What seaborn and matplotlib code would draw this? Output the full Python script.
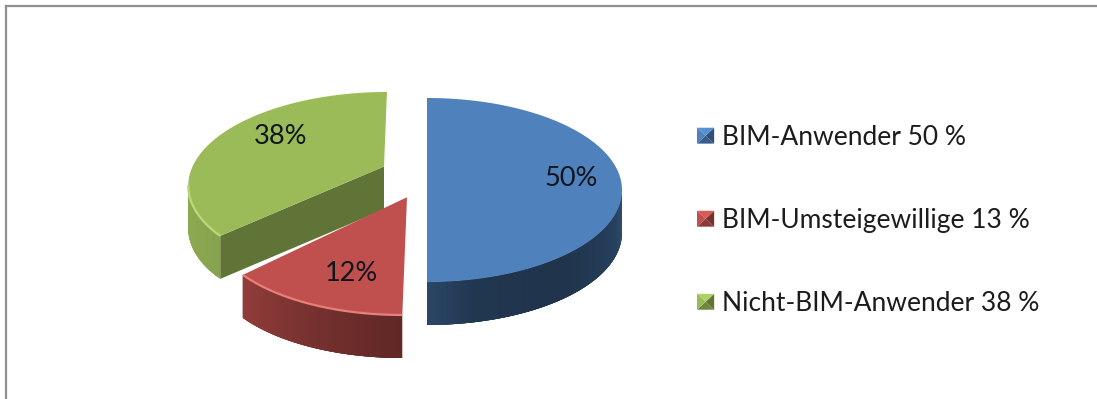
import numpy as np
import matplotlib
matplotlib.use("Agg")
import matplotlib.pyplot as plt
from matplotlib.legend_handler import HandlerBase
from matplotlib.patches import Patch, Polygon
import seaborn as sns

# ---- data ----
categories = ["BIM-Anwender 50 %", "BIM-Umsteigewillige 13 %", "Nicht-BIM-Anwender 38 %"]
slice_values = [50, 12, 38]
slice_labels = ["50%", "12%", "38%"]
base_colors = ["#4f81bd", "#c0504d", "#9bbb59"]

# ---- styling / layout ----
sns.set_theme(style="white")
plt.rcParams["font.family"] = ["Lato", "DejaVu Sans"]
palette = sns.color_palette(base_colors)

W, H = 1097, 399
fig = plt.figure(figsize=(W / 100, H / 100), dpi=100, facecolor="white")
ax = fig.add_axes([6 / W, 0, 1 - 6 / W, 1 - 6 / H])
ax.set_xlim(6, W)
ax.set_ylim(H, 6)
ax.set_xticks([])
ax.set_yticks([])
for s in ["right", "bottom"]:
    ax.spines[s].set_visible(False)
for s in ["left", "top"]:
    ax.spines[s].set_color("#8f8f8f")
    ax.spines[s].set_linewidth(1.6)

RX, RY, DEPTH, PERSP = 195, 92, 43, 0.75
centers_x = [427, 407, 384]
centers_y = [190, 223, 184]
apex_e = [0.28, 0.28, 0.19]
shears = [0.0, -0.04, -0.04]
# shade factor along the front wall, from start to end of the visible arc (degrees)
wall_shades = [((90, 105, 135, 165, 180), (0.62, 0.50, 0.40, 0.42, 0.55)),
               ((180, 200, 240), (0.50, 0.58, 0.78)),
               ((230, 270), (0.86, 0.92))]
rim_colors = [None, "#e87f7b", "#bcd978"]
label_pos = [(571, 178), (351, 273.5), (281, 137)]


def persp_angle(theta):
    return 2 * np.arctan2(PERSP * np.sin(theta / 2), np.cos(theta / 2))


edges = np.radians(np.concatenate([[0], np.cumsum(slice_values)]) / np.sum(slice_values) * 360)

for i, color in enumerate(palette):
    cx, cy, sh = centers_x[i], centers_y[i], shears[i]
    ay = cy - apex_e[i] * RY
    z = 2 + {0: 2, 1: 1, 2: 0}[i]

    def pt(phi, dy=0):
        y = cy - RY * np.cos(phi)
        return cx + RX * np.sin(phi) + sh * (y - ay), y + dy

    p0, p1 = persp_angle(edges[i]), persp_angle(edges[i + 1])
    phis = np.linspace(p0, p1, 160)
    base = np.array(color)

    # cut face towards the viewer (only where the slice's closing radius faces front)
    if i == 2:
        ex, ey = pt(p0)
        ax.fill([cx, ex, ex, cx], [ay, ey, ey + DEPTH, ay + DEPTH],
                color=base * 0.62, lw=0, zorder=z)

    # curved front wall: overlapping strips, painted one over the next
    lo, hi = np.radians(90), np.radians(270)
    w = phis[(phis >= lo) & (phis <= hi)]
    for j in range(len(w) - 1):
        a, b = w[j], w[min(j + 4, len(w) - 1)]
        k = np.interp(np.degrees(w[j]), *wall_shades[i])
        xa, ya = pt(a)
        xb, yb = pt(b)
        ax.fill([xa, xb, xb, xa], [ya, yb, yb + DEPTH, ya + DEPTH],
                color=np.clip(base * k, 0, 1), lw=0, zorder=z)

    # top face
    xs, ys = zip(*[pt(p) for p in phis])
    ax.fill([cx, *xs], [ay, *ys], color=base, lw=0, zorder=z + 0.1)

    # bevel highlight on the front rim
    if rim_colors[i]:
        r = phis[(phis >= lo) & (phis <= hi)]
        rx, ry = zip(*[pt(p) for p in r])
        ax.plot(rx, ry, color=rim_colors[i], lw=1.6, solid_capstyle="butt", zorder=z + 0.2)

    ax.text(*label_pos[i], slice_labels[i], ha="center", va="center",
            fontsize=19.5, color="#10151c", zorder=10)


class BevelHandler(HandlerBase):
    def create_artists(self, legend, orig, xd, yd, width, height, fontsize, trans):
        c = np.array(matplotlib.colors.to_rgb(orig.get_facecolor()))
        x0, y0, x1, y1 = -xd, -yd, -xd + width, -yd + height
        mx, my = (x0 + x1) / 2, (y0 + y1) / 2
        corners = [(x0, y0), (x1, y0), (x1, y1), (x0, y1)]
        shades = [0.72, 0.62, 1.12, 1.0]
        out = []
        for j in range(4):
            tri = [corners[j], corners[(j + 1) % 4], (mx, my)]
            out.append(Polygon(tri, closed=True, transform=trans, lw=0,
                               facecolor=np.clip(c * shades[j], 0, 1)))
        return out


handles = [Patch(facecolor=c, label=n) for c, n in zip(palette, categories)]
ax.legend(handles=handles, loc="upper left", bbox_to_anchor=(697, 125),
          bbox_transform=ax.transData, frameon=False, borderpad=0, borderaxespad=0,
          fontsize=19, labelspacing=2.2, handlelength=0.65, handleheight=0.55, handletextpad=0.28,
          labelcolor="#1c1c1c", handler_map={Patch: BevelHandler()})

fig.savefig("out.png", dpi=100, facecolor="white")
